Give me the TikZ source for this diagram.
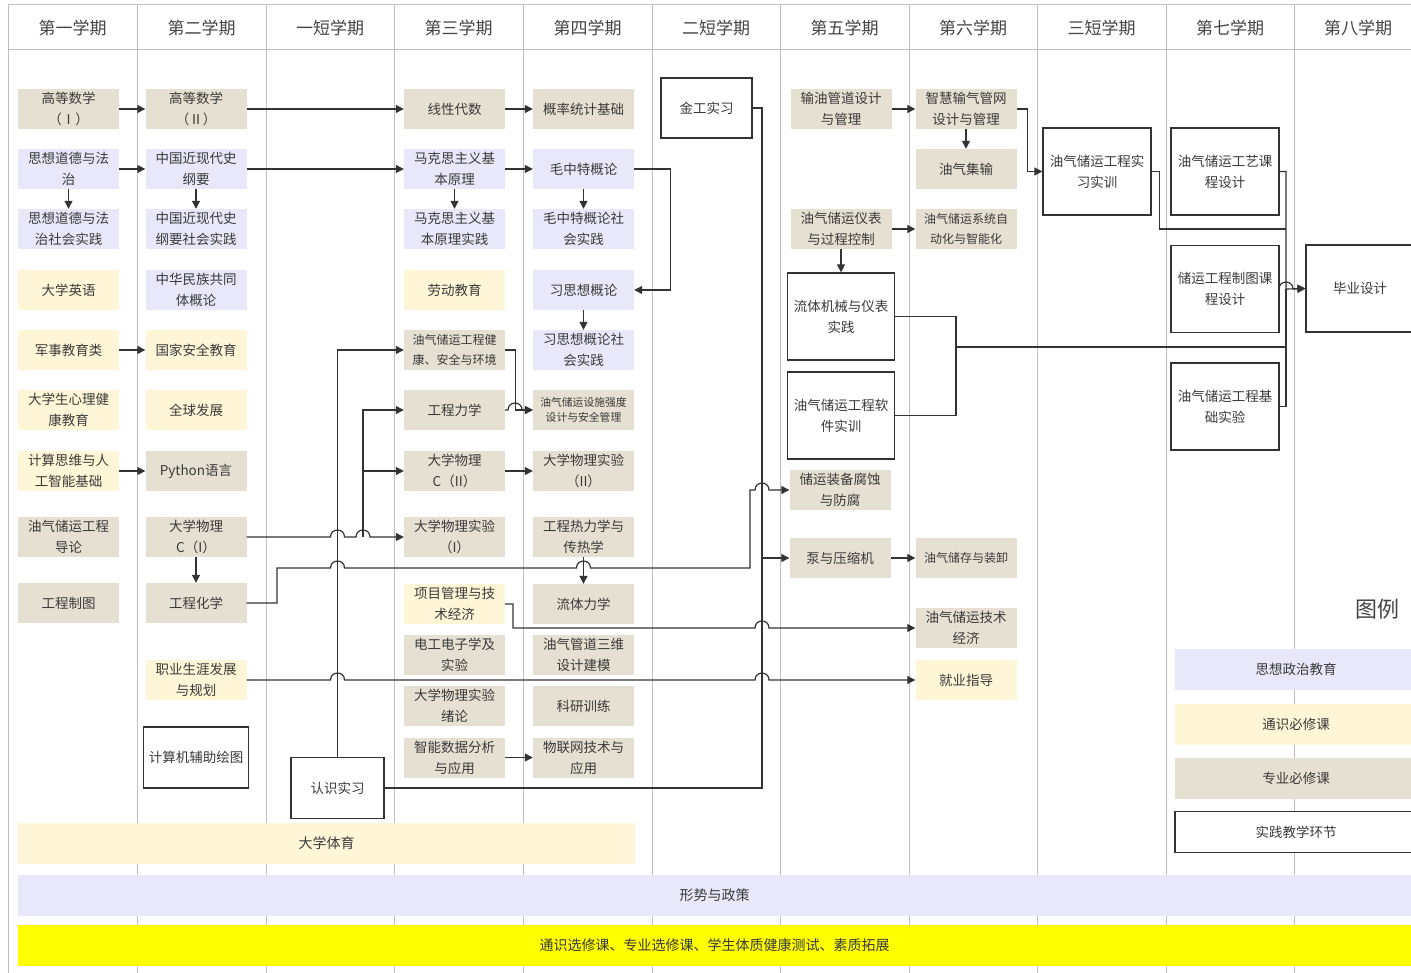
\documentclass[tikz,border=0pt]{standalone}
\usepackage{fontspec}
\setmainfont{Noto Sans CJK SC}
\usepackage{xcolor}
\usepackage{tikz}
\usetikzlibrary{arrows.meta}
\definecolor{zybg}{RGB}{230,224,211}
\definecolor{szbg}{RGB}{232,232,250}
\definecolor{tybg}{RGB}{255,246,216}
\definecolor{hlbg}{RGB}{255,255,0}
\definecolor{gridc}{RGB}{192,192,192}
\definecolor{linec}{RGB}{51,51,51}
\definecolor{txt}{RGB}{58,58,58}
\definecolor{headc}{RGB}{68,68,68}

\begin{document}
\begin{tikzpicture}[
  x=1pt, y=-1pt,
  font=\fontsize{13.5}{21}\selectfont, text=txt,
  box/.style={align=center, minimum width=101pt, minimum height=40pt, inner sep=1pt},
  zy/.style={box, fill=zybg},
  sz/.style={box, fill=szbg},
  ty/.style={box, fill=tybg},
  sj/.style={box, draw=linec, fill=white, line width=1.2pt},
  fine/.style={font=\fontsize{12}{20}\selectfont},
  finer/.style={font=\fontsize{10.8}{15}\selectfont},
  hdr/.style={font=\fontsize{17}{20}\selectfont, text=headc},
  band/.style={minimum height=41pt, inner sep=0pt, font=\fontsize{14}{16}\selectfont},
  colline/.style={draw=gridc, line width=1pt},
  arr/.style={-{Triangle[length=8pt,width=8pt]}, line width=1.2pt, draw=linec},
  wire/.style={line width=1.2pt, draw=linec},
  hop/.style 2 args={insert path={-- (#1-7,#2) .. controls (#1-7,#2-9.3) and (#1+7,#2-9.3) .. (#1+7,#2)}},
]
\useasboundingbox (0,0) rectangle (1411,973);
\clip (0,0) rectangle (1411,973);
\fill[white] (0,0) rectangle (1411,973);
\draw[colline] (8,973) -- (8,5) -- (1411,5) (8,50) -- (1411,50);
\draw[colline] (137,5) -- (137,973) (266,5) -- (266,973) (394,5) -- (394,973) (523,5) -- (523,973)
  (652,5) -- (652,973) (780,5) -- (780,973) (909,5) -- (909,973) (1037,5) -- (1037,973)
  (1166,5) -- (1166,973) (1294,5) -- (1294,973);
\node[hdr] (h1) at (72.5,28) {第一学期};
\node[hdr] (h2) at (201.5,28) {第二学期};
\node[hdr] (h3) at (330,28) {一短学期};
\node[hdr] (h4) at (458.5,28) {第三学期};
\node[hdr] (h5) at (587.5,28) {第四学期};
\node[hdr] (h6) at (716,28) {二短学期};
\node[hdr] (h7) at (844.5,28) {第五学期};
\node[hdr] (h8) at (973,28) {第六学期};
\node[hdr] (h9) at (1101.5,28) {三短学期};
\node[hdr] (h10) at (1230,28) {第七学期};
\node[hdr] (h11) at (1358,28) {第八学期};

\node[zy] (math1) at (68.5,109) {高等数学\\（Ⅰ）};
\node[sz] (moral) at (68.5,169) {思想道德与法\\治};
\node[sz] (moralp) at (68.5,229) {思想道德与法\\治社会实践};
\node[ty] (eng) at (68.5,290) {大学英语};
\node[ty] (mil) at (68.5,350) {军事教育类};
\node[ty] (psy) at (68.5,410) {大学生心理健\\康教育};
\node[ty] (ai) at (68.5,471) {计算思维与人\\工智能基础};
\node[zy] (intro) at (68.5,537) {油气储运工程\\导论};
\node[zy] (drawing) at (68.5,603) {工程制图};

\node[zy] (math2) at (196,109) {高等数学\\（Ⅱ）};
\node[sz] (hist) at (196,169) {中国近现代史\\纲要};
\node[sz] (histp) at (196,229) {中国近现代史\\纲要社会实践};
\node[sz] (nation) at (196,290) {中华民族共同\\体概论};
\node[ty] (sec) at (196,350) {国家安全教育};
\node[ty] (glob) at (196,410) {全球发展};
\node[zy] (py) at (196,471) {Python语言};
\node[zy] (phy1) at (196,537) {大学物理\\C（I）};
\node[zy] (chem) at (196,603) {工程化学};
\node[ty] (career) at (196,680) {职业生涯发展\\与规划};
\node[sj, minimum width=105pt, minimum height=61pt] (cad) at (196,757.5) {计算机辅助绘图};

\node[sj, minimum width=93pt, minimum height=61pt] (visit) at (337.5,788) {认识实习};

\node[zy] (linalg) at (454.5,109) {线性代数};
\node[sz] (marx) at (454.5,169) {马克思主义基\\本原理};
\node[sz] (marxp) at (454.5,229) {马克思主义基\\本原理实践};
\node[ty] (labor) at (454.5,290) {劳动教育};
\node[zy, fine] (hse) at (454.5,350) {油气储运工程健\\康、安全与环境};
\node[zy] (mech) at (454.5,410) {工程力学};
\node[zy] (phy2) at (454.5,471) {大学物理\\C（II）};
\node[zy] (lab1) at (454.5,537) {大学物理实验\\（I）};
\node[ty] (pm) at (454.5,604) {项目管理与技\\术经济};
\node[zy] (elec) at (454.5,655) {电工电子学及\\实验};
\node[zy] (labintro) at (454.5,706) {大学物理实验\\绪论};
\node[zy] (data) at (454.5,757.5) {智能数据分析\\与应用};

\node[zy] (prob) at (583.5,109) {概率统计基础};
\node[sz] (mao) at (583.5,169) {毛中特概论};
\node[sz] (maop) at (583.5,229) {毛中特概论社\\会实践};
\node[sz] (xi) at (583.5,290) {习思想概论};
\node[sz] (xip) at (583.5,350) {习思想概论社\\会实践};
\node[zy, finer] (strength) at (583.5,410) {油气储运设施强度\\设计与安全管理};
\node[zy] (lab2) at (583.5,471) {大学物理实验\\（II）};
\node[zy] (thermo) at (583.5,537) {工程热力学与\\传热学};
\node[zy] (fluid) at (583.5,604) {流体力学};
\node[zy] (pipe3d) at (583.5,655) {油气管道三维\\设计建模};
\node[zy] (research) at (583.5,706) {科研训练};
\node[zy] (iot) at (583.5,757.5) {物联网技术与\\应用};

\node[sj, minimum width=91pt, minimum height=60pt] (metal) at (706.5,108) {金工实习};

\node[zy] (oilpipe) at (841,109) {输油管道设计\\与管理};
\node[zy] (instr) at (841,229) {油气储运仪表\\与过程控制};
\node[sj, minimum width=107pt, minimum height=87pt] (fmach) at (841,316.5) {流体机械与仪表\\实践};
\node[sj, minimum width=107pt, minimum height=87pt] (soft) at (841,415.5) {油气储运工程软\\件实训};
\node[zy] (corr) at (840,490) {储运装备腐蚀\\与防腐};
\node[zy] (pump) at (840,558) {泵与压缩机};

\node[zy] (gasnet) at (966,109) {智慧输气管网\\设计与管理};
\node[zy] (gather) at (966,169) {油气集输};
\node[zy, fine] (auto) at (966,229) {油气储运系统自\\动化与智能化};
\node[zy, fine] (store) at (966,558) {油气储存与装卸};
\node[zy] (econ) at (966,628) {油气储运技术\\经济};
\node[ty] (job) at (966,680) {就业指导};

\node[sj, minimum width=108pt, minimum height=87pt] (intern) at (1097,171.5) {油气储运工程实\\习实训};
\node[sj, minimum width=108pt, minimum height=87pt] (proc) at (1225,171.5) {油气储运工艺课\\程设计};
\node[sj, minimum width=108pt, minimum height=87pt] (drawd) at (1225,289) {储运工程制图课\\程设计};
\node[sj, minimum width=108pt, minimum height=87pt] (baselab) at (1225,406.5) {油气储运工程基\\础实验};
\node[sj, minimum width=108pt, minimum height=87pt] (thesis) at (1360,288.5) {毕业设计};

\node[font=\fontsize{22}{24}\selectfont, text=headc] (legend) at (1377,609) {图例};
\node[sz, minimum width=242pt, minimum height=41pt] (lsz) at (1296,669) {思想政治教育};
\node[ty, minimum width=242pt, minimum height=41pt] (lty) at (1296,724) {通识必修课};
\node[zy, minimum width=242pt, minimum height=41pt] (lzy) at (1296,778) {专业必修课};
\node[sj, minimum width=242pt, minimum height=41pt] (lsj) at (1296,832) {实践教学环节};

\node[ty, band, minimum width=617pt] (pe) at (326.5,843.5) {大学体育};
\node[sz, band, minimum width=1393pt] (policy) at (714.5,895.5) {形势与政策};
\node[box, band, fill=hlbg, minimum width=1393pt] (elective) at (714.5,945.5) {通识选修课、专业选修课、学生体质健康测试、素质拓展};

\coordinate (jphy) at (363,537);
\coordinate (jmetal) at (762,788);
\coordinate (jprac) at (956,347);
\coordinate (jbus) at (1286,289);

\draw[arr] (math1) -- (math2); \draw[arr] (math2) -- (linalg); \draw[arr] (linalg) -- (prob);
\draw[arr] (moral) -- (hist); \draw[arr] (hist) -- (marx); \draw[arr] (marx) -- (mao);
\draw[arr] (moral) -- (moralp); \draw[arr] (hist) -- (histp); \draw[arr] (marx) -- (marxp);
\draw[arr] (mao) -- (maop); \draw[arr] (xi) -- (xip); \draw[arr] (mao.east) -- ++(36,0) |- (xi.east);
\draw[arr] (mil) -- (sec); \draw[arr] (ai) -- (py); \draw[arr] (phy1) -- (chem);
\draw[arr] (phy2) -- (lab2); \draw[arr] (thermo) -- (fluid); \draw[arr] (data) -- (iot);
\draw[arr] (oilpipe) -- (gasnet); \draw[arr] (gasnet) -- (gather); \draw[arr] (instr) -- (auto);
\draw[arr] (instr) -- (fmach); \draw[arr] (pump) -- (store);
\draw[arr] (phy1.east) [hop={337.5}{537}] [hop={363}{537}] -- (lab1.west);
\draw[arr] (jphy) |- (mech.west); \draw[arr] (jphy |- phy2.west) -- (phy2.west);
\draw[arr] (visit.north) |- (hse.west);
\draw[arr] (hse.east) -- ++(10,0) |- (strength.west);
\draw[arr] (mech.east) [hop={515}{410}] -- (strength.west);
\draw[arr] (chem.east) -- (277,603) -- (277,568) [hop={337.5}{568}] [hop={583.5}{568}] -- (750,568) -- (750,490) [hop={762}{490}] -- (corr.west);
\draw[wire] (metal.east) -| (jmetal) -- (visit.east);
\draw[arr] (jmetal |- pump.west) -- (pump.west);
\draw[arr] (pm.east) -- (513,604) -- (513,628) [hop={762}{628}] -- (econ.west);
\draw[arr] (career.east) [hop={337.5}{680}] [hop={762}{680}] -- (job.west);
\draw[arr] (gasnet.east) -- ++(11,0) |- (intern.west);
\draw[wire] (fmach.east) -| (jprac) |- (soft.east);
\draw[wire] (jprac) -- (jprac -| jbus);
\draw[wire] (intern.east) -- ++(8,0) |- (1286,229);
\draw[arr] (proc.east) -| (jbus) -- (thesis.west);
\draw[wire] (baselab.east) -| (jbus);
\draw[arr] (drawd.east) [hop={1286}{289}] -- (thesis.west);
\end{tikzpicture}
\end{document}
